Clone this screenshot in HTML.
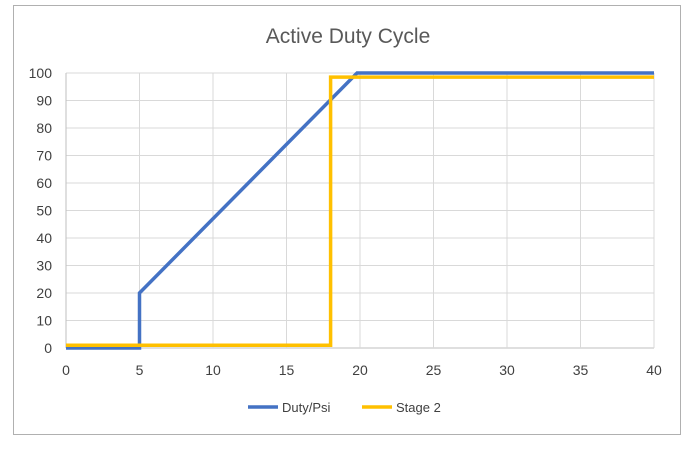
<!DOCTYPE html>
<html><head><meta charset="utf-8"><style>
body{margin:0;background:#fff;font-family:"Liberation Sans",Arial,sans-serif;}
</style></head><body>
<svg width="700" height="450" xmlns="http://www.w3.org/2000/svg">
<rect x="13.5" y="5.5" width="667" height="429" fill="#fff" stroke="#b0b0b0"/>
<text x="348" y="43" text-anchor="middle" font-size="21" fill="#595959">Active Duty Cycle</text>
<g id="grid"></g><g id="ticks"></g><g id="series"></g>
<g>
<line x1="248" y1="407" x2="278" y2="407" stroke="#4472c4" stroke-width="3.5"/>
<text x="282" y="412" font-size="13" fill="#404040">Duty/Psi</text>
<line x1="362" y1="407" x2="392" y2="407" stroke="#ffc000" stroke-width="3.5"/>
<text x="396" y="412" font-size="13" fill="#404040">Stage 2</text>
</g>
</svg>
<script>
const xTicks=[0,5,10,15,20,25,30,35,40];
const yTicks=[0,10,20,30,40,50,60,70,80,90,100];
const dutyX=[0,5,5,19.8,40];
const dutyY=[0,0,20,100,100];
const stageX=[0,18,18,40];
const stageY=[1,1,98.5,98.5];
const X=v=>66+v*(654-66)/40, Y=v=>348-v*(348-73)/100;
const NS="http://www.w3.org/2000/svg";
function mk(t,a,p){const e=document.createElementNS(NS,t);for(const k in a)e.setAttribute(k,a[k]);p.appendChild(e);return e;}
const g=document.getElementById('grid'),tk=document.getElementById('ticks'),s=document.getElementById('series');
yTicks.forEach(v=>{
 const l=mk('line',{x1:X(0),x2:X(40),y1:Y(v),y2:Y(v),stroke:v===0?'#bfbfbf':'#d9d9d9','stroke-width':1},g);
 
 
 const t=mk('text',{x:52,y:Y(v)+5,'text-anchor':'end','font-size':14,fill:'#404040'},tk);t.textContent=v;
 
 
});
xTicks.forEach(v=>{
 const l=mk('line',{x1:X(v),x2:X(v),y1:Y(0),y2:Y(100),stroke:v===0?'#bfbfbf':'#d9d9d9','stroke-width':1},g);
 
 
 const t=mk('text',{x:X(v),y:375,'text-anchor':'middle','font-size':14,fill:'#404040'},tk);t.textContent=v;
 
 
});
function line(xs,ys,c,n){
 const p=mk('polyline',{points:xs.map((x,i)=>X(x)+','+Y(ys[i])).join(' '),fill:'none',stroke:c,'stroke-width':3.5,'stroke-linejoin':'miter'},s);
 
 
}
line(dutyX,dutyY,'#4472c4','series-duty-psi');
line(stageX,stageY,'#ffc000','series-stage-2');
</script>
</body></html>
